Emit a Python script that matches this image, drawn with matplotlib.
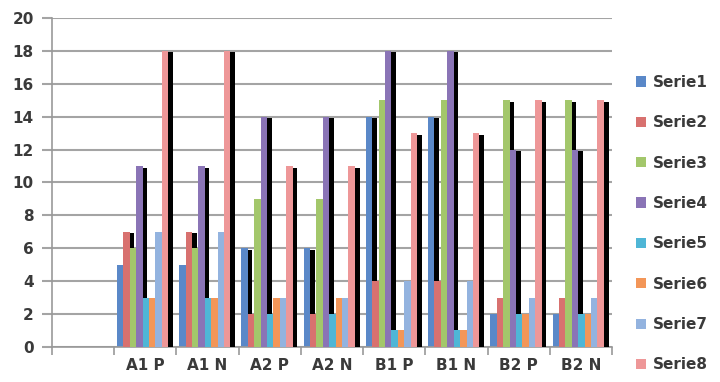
import numpy as np
import matplotlib.pyplot as plt
from matplotlib.patches import Patch

categories = ["", "A1 P", "A1 N", "A2 P", "A2 N", "B1 P", "B1 N", "B2 P", "B2 N"]
series_names = ["Serie1", "Serie2", "Serie3", "Serie4", "Serie5", "Serie6", "Serie7", "Serie8"]

# values per series, one entry per category (first category is empty)
serie1 = [0, 5, 5, 6, 6, 14, 14, 2, 2]
serie2 = [0, 7, 7, 2, 2, 4, 4, 3, 3]
serie3 = [0, 6, 6, 9, 9, 15, 15, 15, 15]
serie4 = [0, 11, 11, 14, 14, 18, 18, 12, 12]
serie5 = [0, 3, 3, 2, 2, 1, 1, 2, 2]
serie6 = [0, 3, 3, 3, 3, 1, 1, 2, 2]
serie7 = [0, 7, 7, 3, 3, 4, 4, 3, 3]
serie8 = [0, 18, 18, 11, 11, 13, 13, 15, 15]

data = [serie1, serie2, serie3, serie4, serie5, serie6, serie7, serie8]
colors = ["#5a88c8", "#d8716f", "#a3c76b", "#8a74b6", "#4fb6d6", "#f39658", "#93b3df", "#ee9798"]

plt.rcParams['font.family'] = 'DejaVu Sans'
plt.rcParams['font.weight'] = 'bold'
txt = "#3a3a3a"

fig = plt.figure(figsize=(7.2, 3.82), dpi=100)
ax = fig.add_axes([0.072, 0.092, 0.778, 0.861])

x = np.arange(len(categories))
step = 0.103      # slot per bar
side = 0.075      # dark side face of each column
start = -0.5 + 0.045

for i, vals in enumerate(data):
    left = x + start + i * step
    vals = np.array(vals, dtype=float)
    ax.bar(left, vals, width=step, align='edge', color=colors[i], linewidth=0, zorder=2 + 2 * i)
    # side face sits behind the next column, only the part above it shows
    sh = np.where(vals > 0, vals - 0.1, 0)
    ax.bar(left + step, sh, width=side, align='edge', color='black', linewidth=0, zorder=3 + 2 * i)

ax.set_xlim(-0.5, len(categories) - 0.5)
ax.set_ylim(0, 20)
ax.set_yticks(np.arange(0, 21, 2))
ax.set_xticks(x)
ax.set_xticklabels(categories)
ax.set_xticks(np.arange(-0.5, len(categories), 1), minor=True)

ax.grid(axis='y', color='#a4a4a4', linewidth=1.5, zorder=0)
ax.set_axisbelow(True)
for s in ['top', 'right']:
    ax.spines[s].set_visible(False)
ax.spines['left'].set_color('#999999')
ax.spines['left'].set_linewidth(1.2)
ax.spines['bottom'].set_color('#999999')
ax.spines['bottom'].set_linewidth(1.2)

ax.tick_params(axis='y', length=7, color='#a4a4a4', width=1.5, labelsize=11, labelcolor=txt, pad=6)
ax.tick_params(axis='x', which='major', length=0, labelsize=11, labelcolor=txt, pad=8)
ax.tick_params(axis='x', which='minor', length=6, color='#999999', width=1.2)

handles = [Patch(facecolor=c, edgecolor='none') for c in colors]
fig.legend(handles, series_names, loc='upper left', bbox_to_anchor=(0.875, 0.82),
           frameon=False, fontsize=11, handlelength=0.65, handleheight=0.65,
           handletextpad=0.45, labelspacing=1.66, borderaxespad=0, labelcolor=txt)

fig.savefig("out.png", dpi=100)
